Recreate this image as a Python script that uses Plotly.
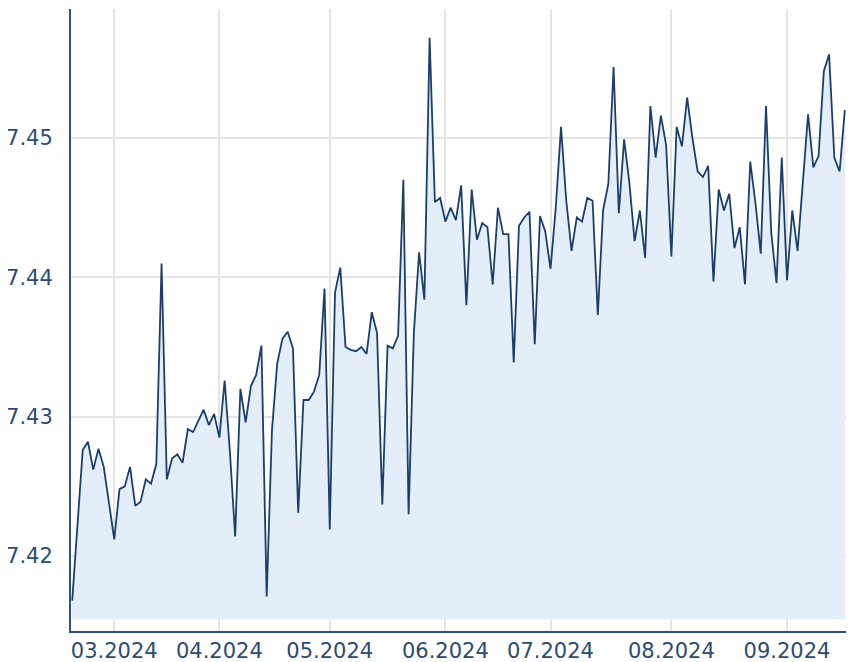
import pandas as pd
import plotly.graph_objects as go

# ---- data -------------------------------------------------------------
HOLIDAYS = ["2024-03-29", "2024-04-01", "2024-05-01"]
DATES = [d.strftime("%Y-%m-%d")
         for d in pd.bdate_range("2024-02-20", "2024-09-17")
         if d.strftime("%Y-%m-%d") not in HOLIDAYS]

VALUES = [
    7.4168, 7.4222, 7.4276, 7.4282, 7.4262, 7.4277, 7.4264, 7.4238, 7.4212, 7.4248,
    7.4250, 7.4264, 7.4236, 7.4239, 7.4255, 7.4252, 7.4266, 7.4410, 7.4255, 7.4270,
    7.4273, 7.4267, 7.4291, 7.4289, 7.4297, 7.4305, 7.4294, 7.4302, 7.4285, 7.4326,
    7.4275, 7.4214, 7.4320, 7.4296, 7.4322, 7.4330, 7.4351, 7.4171, 7.4290, 7.4338,
    7.4356, 7.4361, 7.4349, 7.4231, 7.4312, 7.4312, 7.4318, 7.4330, 7.4392, 7.4219,
    7.4389, 7.4407, 7.4350, 7.4348, 7.4347, 7.4350, 7.4345, 7.4375, 7.4360, 7.4237,
    7.4351, 7.4349, 7.4358, 7.4470, 7.4230, 7.4360, 7.4418, 7.4384, 7.4572, 7.4454,
    7.4457, 7.4440, 7.4450, 7.4441, 7.4466, 7.4380, 7.4463, 7.4427, 7.4439, 7.4436,
    7.4395, 7.4450, 7.4431, 7.4431, 7.4339, 7.4437, 7.4443, 7.4447, 7.4352, 7.4444,
    7.4433, 7.4406, 7.4450, 7.4508, 7.4455, 7.4419, 7.4443, 7.4440, 7.4457, 7.4455,
    7.4373, 7.4448, 7.4467, 7.4551, 7.4446, 7.4499, 7.4468, 7.4426, 7.4448, 7.4414,
    7.4523, 7.4486, 7.4516, 7.4495, 7.4415, 7.4508, 7.4494, 7.4529, 7.4500, 7.4476,
    7.4472, 7.4480, 7.4397, 7.4463, 7.4448, 7.4460, 7.4421, 7.4436, 7.4395, 7.4483,
    7.4453, 7.4417, 7.4523, 7.4432, 7.4396, 7.4486, 7.4398, 7.4448, 7.4419, 7.4470,
    7.4517, 7.4479, 7.4487, 7.4548, 7.4560, 7.4486, 7.4476, 7.4520,
]

X_TICK_VALS = ["2024-03-01", "2024-04-02", "2024-05-02", "2024-06-03",
               "2024-07-01", "2024-08-01", "2024-09-02"]
X_TICK_TEXT = ["03.2024", "04.2024", "05.2024", "06.2024",
               "07.2024", "08.2024", "09.2024"]
Y_TICK_VALS = [7.42, 7.43, 7.44, 7.45]
Y_TICK_TEXT = ["7.42", "7.43", "7.44", "7.45"]

FILL_BASE = 7.41544          # area threshold
Y_RANGE = [7.41462, 7.45926]
X_RANGE = [-0.23, 148.17]

# ---- styling ----------------------------------------------------------
LINE_COLOR = "#1b3f6d"
FILL_COLOR = "#e3eef9"
GRID_COLOR = "#e4e4e4"
AXIS_COLOR = "#2d5280"
TEXT_COLOR = "#2c4b72"
FONT = dict(family="DejaVu Sans, Verdana, sans-serif", size=21, color=TEXT_COLOR)

fig = go.Figure()
fig.add_trace(go.Scatter(
    x=DATES, y=[FILL_BASE] * len(DATES), mode="lines",
    line=dict(width=0, color=FILL_COLOR), hoverinfo="skip", showlegend=False))
fig.add_trace(go.Scatter(
    x=DATES, y=VALUES, mode="lines", fill="tonexty", fillcolor=FILL_COLOR,
    line=dict(color=LINE_COLOR, width=1.8), showlegend=False))

# the page body adds an 8px margin, so the figure is 8px smaller
fig.update_layout(
    width=846, height=654,
    margin=dict(l=63, r=3, t=1, b=31, pad=0, autoexpand=False),
    paper_bgcolor="white", plot_bgcolor="white",
    font=FONT, showlegend=False,
)
fig.update_xaxes(
    type="category", range=X_RANGE, automargin=False,
    tickmode="array", tickvals=X_TICK_VALS, ticktext=X_TICK_TEXT,
    showgrid=True, gridcolor=GRID_COLOR, gridwidth=1.5,
    showline=True, linecolor=AXIS_COLOR, linewidth=2,
    ticks="", tickfont=FONT, ticklabelstandoff=0,
)
fig.update_yaxes(
    range=Y_RANGE, automargin=False,
    tickmode="array", tickvals=Y_TICK_VALS, ticktext=Y_TICK_TEXT,
    showgrid=True, gridcolor=GRID_COLOR, gridwidth=1.5, zeroline=False,
    showline=True, linecolor=AXIS_COLOR, linewidth=2,
    ticks="", tickfont=FONT, ticklabelstandoff=12,
)

fig.write_html("out.html")
